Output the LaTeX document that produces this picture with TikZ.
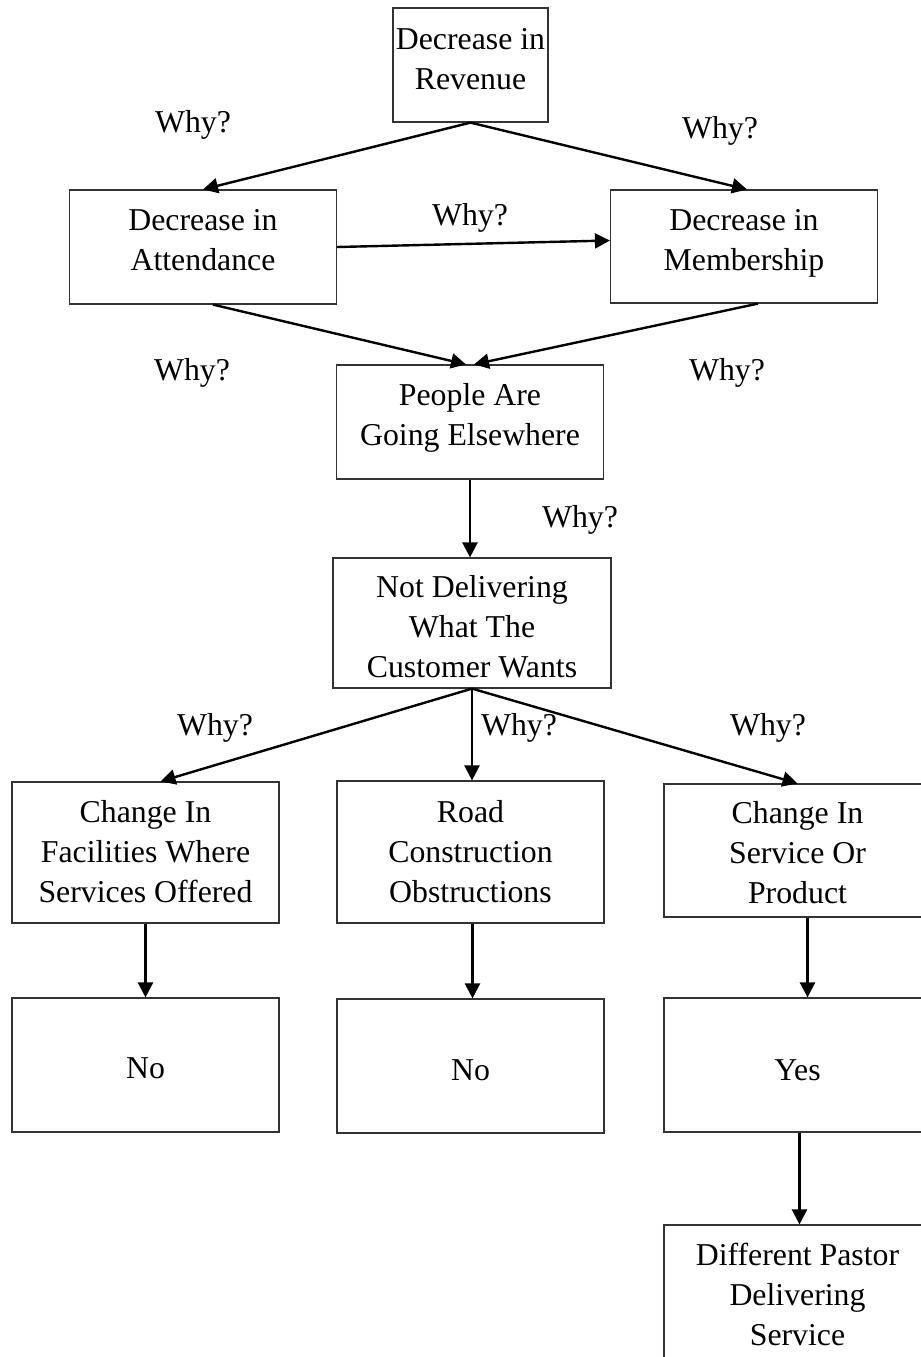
\documentclass[tikz,border=0pt]{standalone}
\usepackage{fontspec}
\setmainfont{Liberation Serif}
\usetikzlibrary{arrows.meta}

\begin{document}
\begin{tikzpicture}[x=0.5pt,y=-0.5pt,
  every node/.style={font=\fontsize{15.9pt}{20pt}\selectfont},
  box/.style={draw=black!80,line width=0.6pt,align=center,inner sep=0pt,
    minimum width=133.5pt},
  tb/.style 2 args={text height=#1,text depth=#2},
  why/.style={inner sep=0pt},
  arr/.style={line width=1.2pt,-{Triangle[length=7.5pt,width=7.5pt]}}]
\useasboundingbox (0,0) rectangle (921,1357);
\clip (0,0) rectangle (921,1357);
% boxes
\node[box,minimum width=77.5pt,tb={40.5pt}{16.5pt}] (rev) at (470.5,65) {Decrease in\\Revenue};
\node[box,tb={40pt}{17pt}] (att) at (203,247) {Decrease in\\Attendance};
\node[box,tb={40pt}{16.5pt}] (mem) at (744,246.5) {Decrease in\\Membership};
\node[box,tb={40pt}{17pt}] (ppl) at (470,422) {People Are\\Going Elsewhere};
\node[box,minimum width=139pt,tb={59.5pt}{5.5pt}] (cust) at (472,623) {Not Delivering\\What The\\Customer Wants};
\node[box,tb={60pt}{10.5pt}] (fac) at (145.5,852.5) {Change In\\Facilities Where\\Services Offered};
\node[box,tb={60.5pt}{10.5pt}] (road) at (470.5,852) {Road\\Construction\\Obstructions};
\node[box,tb={59.5pt}{7pt}] (svc) at (797.5,850.5) {Change In\\Service Or\\Product};
\node[box,tb={40pt}{27pt}] (noa) at (145.5,1065) {No};
\node[box,tb={40.5pt}{26.5pt}] (nob) at (470.5,1066) {No};
\node[box,tb={41pt}{26pt}] (yes) at (797.5,1065) {Yes};
\node[box,tb={60pt}{10pt}] (pastor) at (797.5,1295) {Different Pastor\\Delivering\\Service};
% why labels
\node[why] (w1) at (193,125) {Why?};
\node[why] (w2) at (720,131) {Why?};
\node[why] (w3) at (470,218) {Why?};
\node[why] (w4) at (192,373) {Why?};
\node[why] (w5) at (727,373) {Why?};
\node[why] (w6) at (580,520) {Why?};
\node[why] (w7) at (215,728) {Why?};
\node[why] (w8) at (519,728) {Why?};
\node[why] (w9) at (768,728) {Why?};
% arrows
\draw[arr] (rev.south) -- (att.north);
\draw[arr] (rev.south) -- ([xshift=1.5pt]mem.north);
\draw[arr] (att.east) -- ([yshift=3pt]mem.west);
\draw[arr] ([xshift=5pt]att.south) -- ([xshift=-2pt]ppl.north);
\draw[arr] ([xshift=7pt]mem.south) -- ([xshift=2pt]ppl.north);
\draw[arr] (ppl.south) -- (ppl.south |- cust.north);
\draw[arr] (cust.south) -- ([xshift=7.5pt]fac.north);
\draw[arr] (cust.south) -- (cust.south |- road.north);
\draw[arr] (cust.south) -- (svc.north);
\draw[arr] (fac.south) -- (noa.north);
\draw[arr] ([xshift=1pt]road.south) -- ([xshift=1pt]nob.north);
\draw[arr] ([xshift=5pt]svc.south) -- ([xshift=5pt]yes.north);
\draw[arr] ([xshift=1pt]yes.south) -- ([xshift=1pt]pastor.north);
\end{tikzpicture}
\end{document}
